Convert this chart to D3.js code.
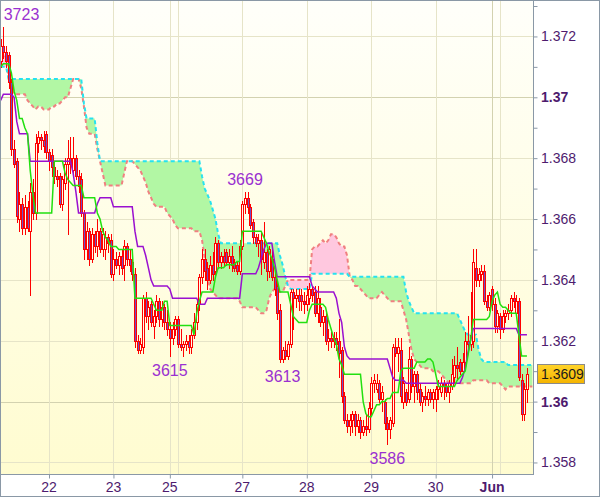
<!DOCTYPE html>
<html><head><meta charset="utf-8">
<script src="https://cdn.jsdelivr.net/npm/d3@7"></script>
<style>html,body{margin:0;padding:0;background:#fff}svg{display:block}</style>
</head><body>
<svg id="chart" width="600" height="497"></svg>
<script>
// ---------- DATA (EURUSD H1, 21 May - 2 Jun) ----------
// [open, high, low, close] per hourly bar
const ohlc = [
[1.3712,1.3719,1.3710,1.3717],[1.3717,1.3723,1.3713,1.3715],[1.3715,1.3717,1.3710,1.3712],[1.3714,1.3715,1.3703,1.3705],[1.3705,1.3706,1.3681,1.3683],
[1.3683,1.3686,1.3677,1.3678],[1.3679,1.3680,1.3659,1.3661],[1.3660,1.3669,1.3656,1.3665],[1.3665,1.3667,1.3655,1.3657],[1.3657,1.3668,1.3655,1.3664],
[1.3664,1.3666,1.3656,1.3657],[1.3656,1.3672,1.3635,1.3669],[1.3669,1.3673,1.3660,1.3662],[1.3662,1.3688,1.3660,1.3685],[1.3685,1.3689,1.3682,1.3687],
[1.3687,1.3688,1.3683,1.3686],[1.3686,1.3689,1.3682,1.3684],[1.3688,1.3689,1.3680,1.3682],[1.3682,1.3683,1.3676,1.3679],[1.3681,1.3683,1.3674,1.3677],
[1.3677,1.3679,1.3672,1.3674],[1.3674,1.3676,1.3671,1.3673],[1.3674,1.3675,1.3664,1.3665],[1.3665,1.3674,1.3663,1.3673],[1.3672,1.3680,1.3670,1.3678],
[1.3678,1.3686,1.3655,1.3680],[1.3680,1.3687,1.3675,1.3678],[1.3676,1.3687,1.3675,1.3680],[1.3680,1.3681,1.3673,1.3674],[1.3674,1.3676,1.3669,1.3671],
[1.3673,1.3675,1.3661,1.3662],[1.3662,1.3663,1.3647,1.3650],[1.3650,1.3659,1.3647,1.3656],[1.3656,1.3657,1.3645,1.3647],[1.3647,1.3657,1.3646,1.3655],
[1.3655,1.3656,1.3649,1.3651],[1.3651,1.3660,1.3648,1.3656],[1.3656,1.3657,1.3649,1.3650],[1.3650,1.3657,1.3648,1.3655],[1.3650,1.3656,1.3647,1.3654],
[1.3654,1.3655,1.3649,1.3652],[1.3653,1.3655,1.3641,1.3642],[1.3642,1.3650,1.3640,1.3647],[1.3647,1.3649,1.3644,1.3645],[1.3645,1.3649,1.3642,1.3648],
[1.3648,1.3650,1.3642,1.3644],[1.3645,1.3653,1.3640,1.3651],[1.3651,1.3652,1.3645,1.3647],[1.3647,1.3650,1.3643,1.3645],[1.3646,1.3648,1.3640,1.3642],
[1.3642,1.3644,1.3618,1.3620],[1.3620,1.3622,1.3616,1.3617],[1.3617,1.3621,1.3616,1.3619],[1.3618,1.3635,1.3616,1.3634],[1.3634,1.3636,1.3626,1.3628],
[1.3628,1.3633,1.3624,1.3631],[1.3632,1.3633,1.3625,1.3626],[1.3625,1.3630,1.3621,1.3628],[1.3628,1.3635,1.3626,1.3633],[1.3633,1.3634,1.3625,1.3627],
[1.3627,1.3633,1.3625,1.3631],[1.3631,1.3632,1.3624,1.3626],[1.3626,1.3630,1.3622,1.3624],[1.3624,1.3626,1.3615,1.3621],[1.3621,1.3626,1.3619,1.3624],
[1.3624,1.3628,1.3622,1.3627],[1.3627,1.3628,1.3618,1.3619],[1.3619,1.3624,1.3617,1.3618],[1.3618,1.3620,1.3615,1.3619],[1.3619,1.3622,1.3617,1.3620],
[1.3620,1.3622,1.3616,1.3618],[1.3618,1.3624,1.3616,1.3622],[1.3622,1.3629,1.3621,1.3626],[1.3626,1.3633,1.3624,1.3632],[1.3632,1.3642,1.3630,1.3641],
[1.3641,1.3650,1.3639,1.3647],[1.3647,1.3650,1.3640,1.3643],[1.3644,1.3646,1.3637,1.3640],[1.3640,1.3648,1.3639,1.3645],[1.3645,1.3649,1.3640,1.3642],
[1.3643,1.3654,1.3641,1.3652],[1.3652,1.3653,1.3644,1.3646],[1.3646,1.3649,1.3644,1.3648],[1.3648,1.3650,1.3645,1.3646],[1.3649,1.3650,1.3645,1.3646],
[1.3646,1.3650,1.3644,1.3648],[1.3648,1.3651,1.3643,1.3645],[1.3646,1.3647,1.3643,1.3644],[1.3645,1.3646,1.3642,1.3643],[1.3643,1.3653,1.3642,1.3651],
[1.3651,1.3666,1.3650,1.3665],[1.3665,1.3669,1.3662,1.3667],[1.3667,1.3669,1.3662,1.3664],[1.3664,1.3665,1.3657,1.3658],[1.3659,1.3660,1.3652,1.3654],
[1.3654,1.3655,1.3651,1.3652],[1.3652,1.3655,1.3648,1.3653],[1.3653,1.3656,1.3642,1.3647],[1.3646,1.3659,1.3644,1.3649],[1.3649,1.3650,1.3640,1.3643],
[1.3643,1.3651,1.3641,1.3650],[1.3647,1.3650,1.3640,1.3641],[1.3641,1.3643,1.3635,1.3637],[1.3638,1.3640,1.3627,1.3629],[1.3630,1.3632,1.3613,1.3614],
[1.3614,1.3618,1.3613,1.3617],[1.3617,1.3620,1.3614,1.3615],[1.3615,1.3620,1.3614,1.3619],[1.3619,1.3637,1.3618,1.3636],[1.3636,1.3637,1.3624,1.3634],
[1.3634,1.3637,1.3631,1.3635],[1.3635,1.3637,1.3630,1.3633],[1.3635,1.3637,1.3630,1.3633],[1.3633,1.3636,1.3629,1.3632],[1.3632,1.3638,1.3630,1.3635],
[1.3634,1.3639,1.3632,1.3637],[1.3637,1.3638,1.3633,1.3635],[1.3636,1.3638,1.3628,1.3629],[1.3629,1.3638,1.3626,1.3634],[1.3631,1.3634,1.3625,1.3626],
[1.3626,1.3630,1.3622,1.3628],[1.3628,1.3629,1.3619,1.3620],[1.3620,1.3624,1.3617,1.3621],[1.3621,1.3623,1.3618,1.3620],[1.3620,1.3623,1.3618,1.3621],
[1.3621,1.3623,1.3617,1.3619],[1.3620,1.3627,1.3608,1.3616],[1.3617,1.3618,1.3600,1.3602],[1.3602,1.3603,1.3593,1.3594],[1.3594,1.3596,1.3590,1.3592],
[1.3592,1.3596,1.3589,1.3594],[1.3594,1.3597,1.3590,1.3596],[1.3596,1.3597,1.3589,1.3592],[1.3592,1.3596,1.3590,1.3594],[1.3594,1.3595,1.3588,1.3590],
[1.3590,1.3594,1.3589,1.3592],[1.3592,1.3596,1.3589,1.3591],[1.3591,1.3600,1.3590,1.3598],[1.3598,1.3608,1.3596,1.3606],[1.3606,1.3609,1.3603,1.3607],
[1.3604,1.3609,1.3603,1.3606],[1.3606,1.3607,1.3600,1.3601],[1.3601,1.3605,1.3597,1.3603],[1.3600,1.3601,1.3591,1.3593],[1.3593,1.3595,1.3586,1.3591],
[1.3591,1.3595,1.3588,1.3594],[1.3593,1.3619,1.3592,1.3618],[1.3618,1.3621,1.3615,1.3616],[1.3616,1.3621,1.3610,1.3618],[1.3617,1.3621,1.3600,1.3602],
[1.3600,1.3608,1.3598,1.3606],[1.3603,1.3604,1.3599,1.3600],[1.3601,1.3618,1.3600,1.3614],[1.3614,1.3615,1.3603,1.3605],[1.3605,1.3610,1.3600,1.3609],
[1.3609,1.3610,1.3601,1.3603],[1.3604,1.3606,1.3599,1.3600],[1.3600,1.3603,1.3597,1.3602],[1.3602,1.3605,1.3599,1.3601],[1.3601,1.3604,1.3599,1.3603],
[1.3603,1.3604,1.3600,1.3601],[1.3601,1.3604,1.3598,1.3603],[1.3601,1.3605,1.3597,1.3604],[1.3604,1.3607,1.3601,1.3605],[1.3603,1.3608,1.3602,1.3606],
[1.3606,1.3607,1.3601,1.3605],[1.3605,1.3606,1.3602,1.3603],[1.3603,1.3607,1.3600,1.3606],[1.3605,1.3614,1.3604,1.3609],[1.3608,1.3615,1.3606,1.3612],
[1.3612,1.3618,1.3607,1.3611],[1.3613,1.3614,1.3609,1.3610],[1.3610,1.3616,1.3609,1.3613],[1.3613,1.3623,1.3612,1.3620],[1.3620,1.3628,1.3617,1.3619],
[1.3619,1.3636,1.3617,1.3622],[1.3620,1.3650,1.3618,1.3646],[1.3644,1.3650,1.3638,1.3640],[1.3640,1.3644,1.3638,1.3642],[1.3642,1.3645,1.3640,1.3643],
[1.3643,1.3645,1.3632,1.3633],[1.3633,1.3635,1.3630,1.3631],[1.3631,1.3636,1.3630,1.3635],[1.3637,1.3638,1.3630,1.3632],[1.3632,1.3634,1.3623,1.3625],
[1.3625,1.3630,1.3623,1.3629],[1.3628,1.3629,1.3621,1.3624],[1.3624,1.3630,1.3623,1.3628],[1.3628,1.3630,1.3626,1.3629],[1.3629,1.3632,1.3627,1.3630],
[1.3630,1.3635,1.3628,1.3634],[1.3634,1.3636,1.3631,1.3633],[1.3629,1.3635,1.3628,1.3633],[1.3633,1.3634,1.3607,1.3608],[1.3607,1.3609,1.3594,1.3596],
[1.3596,1.3606,1.3594,1.3604],[1.3604,1.3611,1.3600,1.3609]
];
// Tenkan-sen (green) per bar
const tenkan = [
1.3710,1.3711,1.3711,1.3711,1.3708,1.3702,1.3699,1.3693,1.3693,1.3690,
1.3688,1.3676,1.3668,1.3662,1.3662,1.3662,1.3662,1.3662,1.3662,1.3662,
1.3679,1.3679,1.3679,1.3679,1.3675,1.3673,1.3672,1.3671,1.3671,1.3671,
1.3671,1.3667,1.3667,1.3667,1.3667,1.3667,1.3662,1.3660,1.3656,1.3654,
1.3653,1.3651,1.3651,1.3651,1.3650,1.3650,1.3650,1.3650,1.3650,1.3650,
1.3634,1.3634,1.3634,1.3634,1.3634,1.3634,1.3634,1.3632,1.3630,1.3630,
1.3630,1.3633,1.3633,1.3625,1.3625,1.3625,1.3625,1.3625,1.3625,1.3625,
1.3625,1.3625,1.3622,1.3629,1.3633,1.3636,1.3636,1.3636,1.3636,1.3636,
1.3641,1.3644,1.3644,1.3644,1.3645,1.3645,1.3645,1.3645,1.3646,1.3646,
1.3656,1.3656,1.3656,1.3656,1.3656,1.3656,1.3656,1.3656,1.3654,1.3652,
1.3649,1.3647,1.3644,1.3640,1.3636,1.3636,1.3636,1.3636,1.3632,1.3628,
1.3627,1.3626,1.3626,1.3626,1.3626,1.3630,1.3632,1.3632,1.3632,1.3632,
1.3632,1.3631,1.3627,1.3624,1.3621,1.3619,1.3614,1.3612,1.3609,1.3609,
1.3609,1.3609,1.3609,1.3609,1.3609,1.3600,1.3596,1.3595,1.3595,1.3597,
1.3599,1.3599,1.3600,1.3600,1.3601,1.3601,1.3603,1.3603,1.3603,1.3610,
1.3611,1.3611,1.3611,1.3611,1.3611,1.3613,1.3613,1.3613,1.3613,1.3614,
1.3614,1.3613,1.3609,1.3605,1.3605,1.3605,1.3605,1.3605,1.3605,1.3605,
1.3607,1.3608,1.3609,1.3610,1.3615,1.3620,1.3627,1.3627,1.3627,1.3627,
1.3627,1.3627,1.3628,1.3633,1.3635,1.3636,1.3632,1.3631,1.3631,1.3630,
1.3629,1.3629,1.3629,1.3622,1.3615,1.3615,1.3615
];
// Kijun-sen (purple) per bar
const kijun = [
1.3699,1.3701,1.3701,1.3701,1.3701,1.3700,1.3692,1.3688,1.3688,1.3688,
1.3688,1.3679,1.3679,1.3679,1.3679,1.3679,1.3679,1.3679,1.3679,1.3679,
1.3679,1.3679,1.3679,1.3679,1.3679,1.3679,1.3679,1.3675,1.3669,1.3662,
1.3662,1.3662,1.3662,1.3662,1.3662,1.3662,1.3665,1.3667,1.3667,1.3667,
1.3667,1.3667,1.3664,1.3664,1.3664,1.3664,1.3664,1.3664,1.3664,1.3664,
1.3656,1.3651,1.3651,1.3651,1.3648,1.3644,1.3640,1.3638,1.3638,1.3638,
1.3638,1.3638,1.3638,1.3637,1.3634,1.3634,1.3634,1.3634,1.3634,1.3634,
1.3634,1.3634,1.3634,1.3634,1.3632,1.3632,1.3632,1.3634,1.3634,1.3634,
1.3634,1.3634,1.3634,1.3634,1.3634,1.3634,1.3634,1.3634,1.3634,1.3634,
1.3642,1.3642,1.3642,1.3642,1.3642,1.3642,1.3644,1.3647,1.3650,1.3652,
1.3652,1.3652,1.3646,1.3641,1.3641,1.3641,1.3641,1.3641,1.3641,1.3641,
1.3641,1.3641,1.3641,1.3641,1.3641,1.3641,1.3638,1.3637,1.3636,1.3636,
1.3636,1.3636,1.3636,1.3636,1.3636,1.3634,1.3629,1.3626,1.3618,1.3615,
1.3614,1.3614,1.3614,1.3614,1.3614,1.3614,1.3614,1.3614,1.3614,1.3614,
1.3614,1.3614,1.3614,1.3614,1.3614,1.3611,1.3608,1.3607,1.3607,1.3607,
1.3607,1.3606,1.3606,1.3606,1.3606,1.3606,1.3606,1.3606,1.3606,1.3606,
1.3606,1.3606,1.3606,1.3606,1.3606,1.3606,1.3606,1.3606,1.3606,1.3606,
1.3606,1.3606,1.3608,1.3611,1.3616,1.3620,1.3624,1.3624,1.3624,1.3624,
1.3624,1.3624,1.3624,1.3624,1.3624,1.3624,1.3624,1.3624,1.3624,1.3624,
1.3624,1.3624,1.3624,1.3622,1.3622,1.3622,1.3622
];
// Senkou span A (salmon, dashed) - plotted ahead, so it runs past the last bar
const spanA = [
1.3715,1.3715,1.3713,1.3706,1.3703,1.3701,1.3701,1.3701,1.3701,1.3701,
1.3699,1.3698,1.3697,1.3696,1.3697,1.3697,1.3696,1.3696,1.3696,1.3697,
1.3697,1.3698,1.3698,1.3699,1.3700,1.3700,1.3703,1.3706,1.3706,1.3706,
1.3703,1.3697,1.3690,1.3688,1.3688,1.3688,1.3683,1.3679,1.3675,1.3671,
1.3671,1.3671,1.3671,1.3671,1.3671,1.3671,1.3675,1.3679,1.3679,1.3679,
1.3678,1.3677,1.3676,1.3674,1.3672,1.3669,1.3667,1.3665,1.3664,1.3664,
1.3664,1.3664,1.3662,1.3661,1.3660,1.3658,1.3657,1.3657,1.3657,1.3657,
1.3657,1.3657,1.3656,1.3656,1.3656,1.3653,1.3647,1.3641,1.3637,1.3636,
1.3635,1.3634,1.3634,1.3634,1.3634,1.3634,1.3634,1.3634,1.3634,1.3633,
1.3631,1.3631,1.3631,1.3631,1.3631,1.3631,1.3630,1.3629,1.3629,1.3630,
1.3634,1.3636,1.3637,1.3637,1.3636,1.3636,1.3638,1.3640,1.3640,1.3640,
1.3640,1.3640,1.3640,1.3640,1.3640,1.3640,1.3650,1.3651,1.3651,1.3652,
1.3653,1.3652,1.3653,1.3655,1.3655,1.3654,1.3652,1.3651,1.3651,1.3648,
1.3641,1.3640,1.3638,1.3638,1.3637,1.3636,1.3635,1.3634,1.3634,1.3634,
1.3634,1.3635,1.3636,1.3635,1.3634,1.3633,1.3633,1.3633,1.3633,1.3633,
1.3630,1.3627,1.3622,1.3617,1.3614,1.3613,1.3612,1.3611,1.3611,1.3611,
1.3611,1.3610,1.3610,1.3610,1.3609,1.3608,1.3607,1.3606,1.3606,1.3606,
1.3606,1.3606,1.3606,1.3606,1.3606,1.3606,1.3607,1.3607,1.3607,1.3607,
1.3607,1.3607,1.3606,1.3606,1.3606,1.3606,1.3606,1.3605,1.3604,1.3605,
1.3605,1.3605,1.3605,1.3605,1.3605,1.3605,1.3605,1.3605,1.3605
];
// Senkou span B (cyan, dashed)
const spanB = [
1.3710,1.3710,1.3710,1.3706,1.3706,1.3706,1.3706,1.3706,1.3706,1.3706,
1.3706,1.3706,1.3706,1.3706,1.3706,1.3706,1.3706,1.3706,1.3706,1.3706,
1.3706,1.3706,1.3706,1.3706,1.3706,1.3706,1.3706,1.3706,1.3706,1.3706,
1.3706,1.3698,1.3693,1.3693,1.3693,1.3693,1.3685,1.3679,1.3679,1.3679,
1.3679,1.3679,1.3679,1.3679,1.3679,1.3679,1.3679,1.3679,1.3679,1.3679,
1.3679,1.3679,1.3679,1.3679,1.3679,1.3679,1.3679,1.3679,1.3679,1.3679,
1.3679,1.3679,1.3679,1.3679,1.3679,1.3679,1.3679,1.3679,1.3679,1.3679,
1.3679,1.3679,1.3679,1.3679,1.3679,1.3674,1.3670,1.3668,1.3666,1.3663,
1.3660,1.3655,1.3652,1.3652,1.3652,1.3652,1.3652,1.3652,1.3652,1.3652,
1.3652,1.3652,1.3652,1.3652,1.3652,1.3652,1.3652,1.3652,1.3652,1.3652,
1.3652,1.3652,1.3652,1.3652,1.3648,1.3645,1.3641,1.3638,1.3637,1.3637,
1.3637,1.3637,1.3637,1.3637,1.3637,1.3637,1.3642,1.3642,1.3642,1.3642,
1.3642,1.3642,1.3642,1.3642,1.3642,1.3642,1.3642,1.3642,1.3642,1.3642,
1.3641,1.3641,1.3641,1.3641,1.3641,1.3641,1.3641,1.3641,1.3641,1.3641,
1.3641,1.3641,1.3641,1.3641,1.3641,1.3641,1.3641,1.3641,1.3641,1.3641,
1.3641,1.3636,1.3633,1.3631,1.3629,1.3629,1.3629,1.3629,1.3629,1.3629,
1.3629,1.3629,1.3629,1.3629,1.3629,1.3629,1.3629,1.3629,1.3629,1.3629,
1.3629,1.3627,1.3625,1.3623,1.3622,1.3622,1.3622,1.3622,1.3617,1.3614,
1.3613,1.3613,1.3613,1.3613,1.3613,1.3613,1.3613,1.3613,1.3613,1.3612,
1.3612,1.3612,1.3612,1.3612,1.3612,1.3612,1.3612,1.3612,1.3612
];
// Time axis: bar index of each day start, and labels
const dayStarts = [18, 42, 63, 66, 90, 114, 138, 162, 183, 186];
const dayLabels = [
  {i:18, text:"22"}, {i:42, text:"23"}, {i:63, text:"25"}, {i:90, text:"27"},
  {i:114, text:"28"}, {i:138, text:"29"}, {i:162, text:"30"}, {i:183, text:"Jun", bold:true}
];
// Price axis
const priceTicks = [1.373,1.372,1.371,1.370,1.369,1.368,1.367,1.366,1.365,1.364,1.363,1.362,1.361,1.360,1.359,1.358];
const priceLabels = [
  {p:1.372, text:"1.372"}, {p:1.370, text:"1.37", bold:true}, {p:1.368, text:"1.368"},
  {p:1.366, text:"1.366"}, {p:1.364, text:"1.364"}, {p:1.362, text:"1.362"},
  {p:1.360, text:"1.36", bold:true}, {p:1.358, text:"1.358"}
];
// High / low markers (pips)
const extremes = [
  {i:1, p:1.3723, text:"3723", high:true},
  {i:91, p:1.3669, text:"3669", high:true},
  {i:63, p:1.3615, text:"3615", high:false},
  {i:105, p:1.3613, text:"3613", high:false},
  {i:144, p:1.3586, text:"3586", high:false}
];
const lastPrice = 1.3609;

// ---------- DRAW ----------
const W = 600, H = 497;
const plotR = 533, plotB = 474;
const svg = d3.select("#chart");
const FONT = "Arial, 'Liberation Sans', sans-serif";
const AXIS_COL = "#4e1b6e";

const x = d3.scaleLinear().domain([-0.25, 198.25]).range([0, plotR]);
const y = d3.scaleLinear().domain([1.36, 1.37]).range([401.6, 97.3]);

const defs = svg.append("defs");
const bg = defs.append("linearGradient").attr("id","bg").attr("x1",0).attr("y1",0).attr("x2",0).attr("y2",1);
bg.append("stop").attr("offset","0%").attr("stop-color","#fffffa");
bg.append("stop").attr("offset","100%").attr("stop-color","#fffcd0");
const tag = defs.append("linearGradient").attr("id","tag").attr("x1",0).attr("y1",0).attr("x2",0).attr("y2",1);
tag.append("stop").attr("offset","0%").attr("stop-color","#ffd42a");
tag.append("stop").attr("offset","100%").attr("stop-color","#f5b400");
defs.append("clipPath").attr("id","clip").append("rect")
  .attr("x",1).attr("y",1).attr("width",plotR-1).attr("height",plotB-1);

svg.append("rect").attr("width",W).attr("height",H).attr("fill","#fff");
svg.append("rect").attr("x",0).attr("y",0).attr("width",plotR).attr("height",plotB).attr("fill","url(#bg)");

const plot = svg.append("g").attr("clip-path","url(#clip)");

// grid
plot.selectAll(".hg").data(priceLabels).enter().append("line")
  .attr("x1",0).attr("x2",plotR)
  .attr("y1",d=>Math.round(y(d.p))+0.5).attr("y2",d=>Math.round(y(d.p))+0.5)
  .attr("stroke",d=>d.bold?"#d3d2b0":"#e6e4c8").attr("stroke-width",1);
plot.selectAll(".vg").data(dayStarts).enter().append("line")
  .attr("y1",0).attr("y2",plotB)
  .attr("x1",d=>Math.round(x(d))+0.5).attr("x2",d=>Math.round(x(d))+0.5)
  .attr("stroke",d=>d===183?"#d3d2b0":"#e6e4c8").attr("stroke-width",1);

// cloud
const idxC = d3.range(spanA.length);
const greenArea = d3.area().x(i=>x(i))
  .y0(i=>y(Math.min(spanA[i],spanB[i]))).y1(i=>y(spanB[i]));
const pinkArea = d3.area().x(i=>x(i))
  .y0(i=>y(Math.min(spanA[i],spanB[i]))).y1(i=>y(spanA[i]));
plot.append("path").datum(idxC).attr("d",greenArea).attr("fill","#b2f7a4");
plot.append("path").datum(idxC).attr("d",pinkArea).attr("fill","#ffc8df");
const lineOf = arr => d3.line().x((d,i)=>x(i)).y(d=>y(d));
plot.append("path").datum(spanA).attr("d",lineOf(spanA)).attr("fill","none")
  .attr("stroke","#f08080").attr("stroke-width",2).attr("stroke-dasharray","4,3");
plot.append("path").datum(spanB).attr("d",lineOf(spanB)).attr("fill","none")
  .attr("stroke","#26e2f0").attr("stroke-width",2).attr("stroke-dasharray","4,3");

// candles
const cg = plot.append("g").attr("shape-rendering","crispEdges");
ohlc.forEach((d,i)=>{
  const [o,h,l,c] = d;
  const cx = Math.round(x(i));
  cg.append("line").attr("x1",cx+0.5).attr("x2",cx+0.5)
    .attr("y1",Math.round(y(h))).attr("y2",Math.round(y(l))+1)
    .attr("stroke","#ff0000").attr("stroke-width",1);
  const top = Math.round(y(Math.max(o,c))), bot = Math.round(y(Math.min(o,c)));
  cg.append("rect").attr("x",cx-0.5).attr("y",top+0.5)
    .attr("width",2).attr("height",Math.max(bot-top,1))
    .attr("fill", c<o ? "#6f4fc6" : "#fffde8")
    .attr("stroke","#ff0000").attr("stroke-width",1);
});

// tenkan / kijun
plot.append("path").datum(kijun).attr("d",lineOf(kijun)).attr("fill","none")
  .attr("stroke","#9a10d0").attr("stroke-width",1.5);
plot.append("path").datum(tenkan).attr("d",lineOf(tenkan)).attr("fill","none")
  .attr("stroke","#22e010").attr("stroke-width",1.5);

// extremes labels
svg.selectAll(".ext").data(extremes).enter().append("text")
  .attr("x",d=>Math.max(x(d.i), 4+17.5))
  .attr("y",d=>d.high ? y(d.p)-7 : y(d.p)+20)
  .attr("text-anchor","middle").attr("font-family",FONT).attr("font-size",16)
  .attr("fill","#9a30d0").text(d=>d.text);

// frame & axes lines
svg.append("line").attr("x1",plotR+0.5).attr("x2",plotR+0.5).attr("y1",0).attr("y2",plotB)
  .attr("stroke","#8a98a6");
svg.append("line").attr("x1",0).attr("x2",plotR+1).attr("y1",plotB+0.5).attr("y2",plotB+0.5)
  .attr("stroke","#8a98a6");
svg.append("rect").attr("x",0.5).attr("y",0.5).attr("width",W-1).attr("height",H-1)
  .attr("fill","none").attr("stroke","#8a98a6");

// right axis
const yAxis = d3.axisRight(y).tickValues(priceTicks).tickSize(4).tickSizeOuter(0).tickFormat("");
const ya = svg.append("g").attr("transform",`translate(${plotR+0.5},0)`).call(yAxis);
ya.select(".domain").remove();
ya.selectAll(".tick line").attr("stroke","#8a98a6");
svg.selectAll(".pl").data(priceLabels).enter().append("text")
  .attr("x",541).attr("y",d=>y(d.p)+5)
  .attr("font-family",FONT).attr("font-size",14)
  .attr("font-weight",d=>d.bold?"bold":"normal")
  .attr("fill",AXIS_COL).text(d=>d.text);

// bottom axis
const xAxis = d3.axisBottom(x).tickValues(dayLabels.map(d=>d.i)).tickSize(4).tickSizeOuter(0).tickFormat("");
const xa = svg.append("g").attr("transform",`translate(0,${plotB+0.5})`).call(xAxis);
xa.select(".domain").remove();
xa.selectAll(".tick line").attr("stroke","#8a98a6");
svg.selectAll(".dl").data(dayLabels).enter().append("text")
  .attr("x",d=>x(d.i)).attr("y",492)
  .attr("text-anchor","middle").attr("font-family",FONT).attr("font-size",14)
  .attr("font-weight",d=>d.bold?"bold":"normal")
  .attr("fill",AXIS_COL).text(d=>d.text);

// last price tag
const ty = y(lastPrice);
svg.append("rect").attr("x",537.5).attr("y",Math.round(ty)-9.5).attr("width",47).attr("height",19)
  .attr("fill","url(#tag)").attr("stroke","#8a8a8a");
svg.append("text").attr("x",541).attr("y",Math.round(ty)+5)
  .attr("font-family",FONT).attr("font-size",14).attr("fill","#1a1a1a").text(lastPrice.toFixed(4));
</script>
</body></html>
